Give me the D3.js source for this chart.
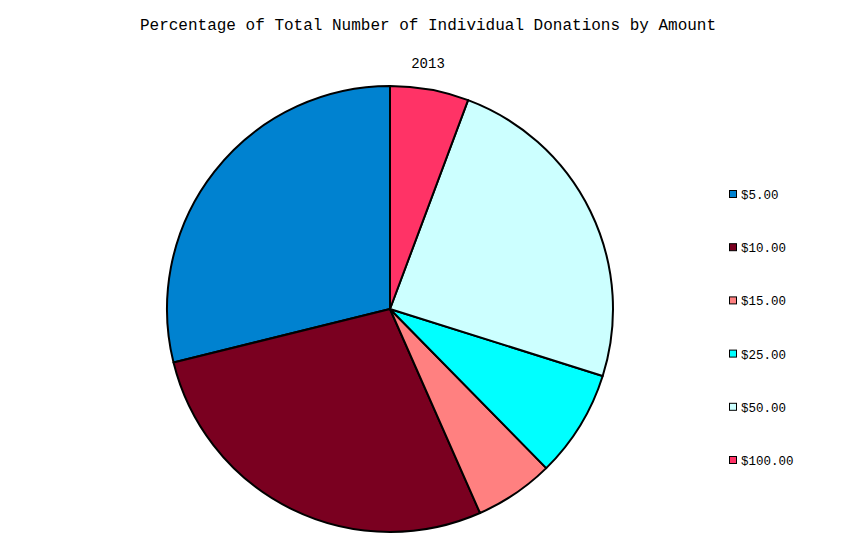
<!DOCTYPE html>
<html><head><meta charset="utf-8">
<script src="https://cdn.jsdelivr.net/npm/d3@7"></script>
<style>body{margin:0;background:#fff}svg{display:block}</style>
</head><body>
<script>
const categories = ["$5.00","$10.00","$15.00","$25.00","$50.00","$100.00"];
const values = [28.9, 27.8, 5.75, 7.8, 24.2, 5.7];
const colors = ["#0082d0","#7a0020","#ff8080","#00ffff","#ccffff","#ff3366"];
const title = "Percentage of Total Number of Individual Donations by Amount";
const subtitle = "2013";

const W = 846, H = 540;
const svg = d3.select("body").append("svg").attr("width", W).attr("height", H);
const font = "'Liberation Mono', 'Courier New', monospace";

svg.append("text").attr("x", 428).attr("y", 30).attr("text-anchor","middle")
  .attr("font-family", font).attr("font-size", 16).text(title);
svg.append("text").attr("x", 428).attr("y", 68).attr("text-anchor","middle")
  .attr("font-family", font).attr("font-size", 14).text(subtitle);

const cx = 390, cy = 309, r = 223;
const data = categories.map((c,i)=>({c, v: values[i], col: colors[i]}));
const pie = d3.pie().value(d=>d.v).sort(null).startAngle(0).endAngle(-2*Math.PI);
const arc = d3.arc().innerRadius(0).outerRadius(r);
const g = svg.append("g").attr("transform", `translate(${cx},${cy})`);
g.selectAll("path").data(pie(data)).join("path")
  .attr("d", arc).attr("fill", d=>d.data.col)
  .attr("stroke", "#000").attr("stroke-width", 2).attr("stroke-linejoin","round");

const y = d3.scalePoint().domain(categories).range([195, 461]);
const lg = svg.append("g");
const items = lg.selectAll("g").data(data).join("g")
  .attr("transform", d=>`translate(729,${y(d.c)})`);
items.append("rect").attr("x", 0.5).attr("y", -4.5).attr("width", 7).attr("height", 7)
  .attr("fill", d=>d.col).attr("stroke","#000").attr("stroke-width",1);
items.append("text").attr("x", 12).attr("y", 4).attr("font-family", font)
  .attr("font-size", 12.5).text(d=>d.c);
</script>
</body></html>
